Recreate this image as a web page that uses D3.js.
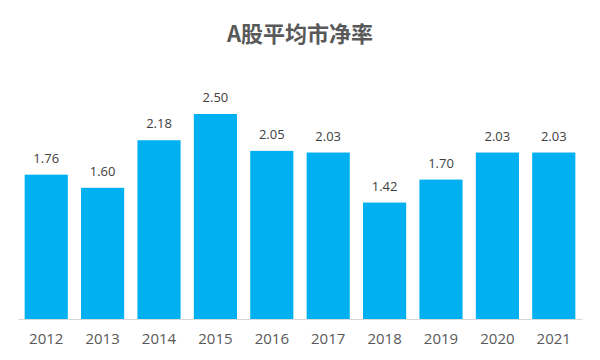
<!DOCTYPE html>
<html><head><meta charset="utf-8">
<script src="https://cdn.jsdelivr.net/npm/d3@7"></script>
<style>body{margin:0;background:#fff}</style>
</head><body>
<svg id="c" width="600" height="360"></svg>
<script>
const years = ["2012","2013","2014","2015","2016","2017","2018","2019","2020","2021"];
const values = [1.76,1.60,2.18,2.50,2.05,2.03,1.42,1.70,2.03,2.03];
const title = "A股平均市净率";

const svg = d3.select("#c");
const x = d3.scaleBand().domain(years).range([18, 582]).paddingInner(0.235).paddingOuter(0.118);
const y = d3.scaleLinear().domain([0, 3]).range([319, 73]);

svg.append("text").attr("x", 300).attr("y", 42).attr("text-anchor", "middle")
  .attr("font-family", "'Noto Sans CJK SC', sans-serif").attr("font-weight", "bold")
  .attr("font-size", 22).attr("fill", "#595959").text(title);

svg.selectAll("rect.bar").data(values).join("rect").attr("class","bar")
  .attr("x", (d,i) => x(years[i])).attr("width", x.bandwidth())
  .attr("y", d => y(d)).attr("height", d => y(0) - y(d))
  .attr("fill", "#00B0F0");

svg.selectAll("text.val").data(values).join("text").attr("class","val")
  .attr("x", (d,i) => x(years[i]) + x.bandwidth()/2).attr("y", d => y(d) - 12)
  .attr("text-anchor", "middle").attr("font-family", "'Open Sans', sans-serif")
  .attr("font-size", 13).attr("fill", "#404040").text(d => d.toFixed(2));

const ax = svg.append("g").attr("transform", "translate(0,319)")
  .call(d3.axisBottom(x).tickSize(0).tickPadding(14));
ax.select(".domain").attr("stroke", "#d9d9d9");
ax.selectAll("text").attr("font-family", "'Open Sans', sans-serif").attr("font-size", 15).attr("fill", "#595959");
</script>
</body></html>
